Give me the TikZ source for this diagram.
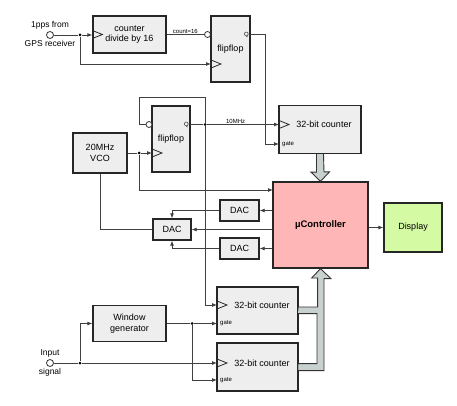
\documentclass[tikz,border=0pt]{standalone}
\usepackage{fontspec}
\setmainfont{Liberation Sans}
\usetikzlibrary{arrows.meta}

\definecolor{boxgray}{RGB}{238,238,238}
\definecolor{busgray}{RGB}{200,208,208}
\definecolor{ucpink}{RGB}{255,182,182}
\definecolor{dispgreen}{RGB}{212,250,164}

\begin{document}
\begin{tikzpicture}[x=1pt,y=-1pt,
  box/.style={draw=black!85, line width=1.3pt, fill=boxgray, inner sep=0pt, align=center, font=\fontsize{9}{10.5}\selectfont},
  txt/.style={inner sep=0pt, font=\fontsize{9}{10.5}\selectfont},
  wire/.style={draw=black!75, line width=0.8pt},
  sig/.style={wire, -{Latex[length=5pt,width=4pt]}},
  pin/.style={inner sep=1pt, font=\fontsize{6}{6.5}\selectfont},
  lbl/.style={inner sep=1.5pt, font=\fontsize{8.5}{9}\selectfont},
  term/.style={circle, draw=black!80, fill=white, line width=0.8pt, minimum size=7pt, inner sep=0pt},
  bubble/.style={circle, draw=black!80, fill=white, line width=0.8pt, minimum size=6pt, inner sep=0pt},
  dot/.style={circle, fill=black, minimum size=3pt, inner sep=0pt},
  bus/.style={draw=black!80, line width=0.9pt, fill=busgray, line join=miter},
  clk/.pic={\draw[black!85, line width=0.8pt] (0,-4) -- (10,0) -- (0,4);}
]
\useasboundingbox (0,0) rectangle (457,406);

% blocks
\node (cnt16) [box, minimum width=73, minimum height=37] at (129.5,34.5) {counter\\divide by 16};
\node (ffa) [box, minimum width=39, minimum height=66] at (230.5,49) {flipflop};
\node (ffb) [box, minimum width=38, minimum height=66] at (171,139) {flipflop};
\node (vco) [box, minimum width=54, minimum height=40] at (100,153) {20MHz\\VCO};
\node (ctrA) [box, minimum width=82, minimum height=48] at (320,129.5) {};
\node (ctrAt) [txt] at (324,124.5) {32-bit counter};
\node (dacT) [box, minimum width=39, minimum height=21] at (239.5,210.5) {DAC};
\node (dacM) [box, minimum width=38, minimum height=21] at (172,229.5) {DAC};
\node (dacB) [box, minimum width=39, minimum height=21] at (239.5,248.5) {DAC};
\node (uc) [box, fill=ucpink, minimum width=95, minimum height=86, font=\bfseries\fontsize{9.5}{11}\selectfont] at (320.5,225) {µController};
\node (disp) [box, fill=dispgreen, minimum width=58, minimum height=49] at (413,227.5) {Display};
\node (win) [box, minimum width=73, minimum height=36] at (129.5,323.5) {Window\\generator};
\node (ctrB) [box, minimum width=81, minimum height=47] at (257.5,310.5) {};
\node (ctrBt) [txt] at (262,305) {32-bit counter};
\node (ctrC) [box, minimum width=81, minimum height=48] at (257.5,367) {};
\node (ctrCt) [txt] at (262,363) {32-bit counter};

% terminals, pins, junctions
\node (gps) [term, label={[lbl]above:1pps from}, label={[lbl]below:GPS receiver}] at (50,35) {};
\node (inp) [term, label={[lbl]above:Input}, label={[lbl]below:signal}] at (50,363) {};
\node (ffa-n) [bubble] at (207.5,34.5) {};
\node (ffb-n) [bubble] at (149,124.5) {};
\coordinate (ffa-c) at (211,64);
\coordinate (ffa-q) at (250,34.5);
\coordinate (ffb-c) at (152,153);
\coordinate (ffb-q) at (190,124.5);
\coordinate (ctrA-c) at (279,124.5);
\coordinate (ctrA-g) at (279,144);
\coordinate (ctrB-c) at (217,305);
\coordinate (ctrB-g) at (217,323.5);
\coordinate (ctrC-c) at (217,363);
\coordinate (ctrC-g) at (217,380);
\coordinate (uc-c) at (273,190);
\node (j1) [dot] at (80,35) {};
\node (j3) [dot] at (205,124.5) {};
\node (j4) [dot] at (139,153) {};
\node (j5) [dot] at (80,363) {};
\node (j6) [dot] at (192,323.5) {};

\pic at (cnt16.west) {clk};
\pic at (ffa-c) {clk};
\pic at (ffb-c) {clk};
\pic at (ctrA-c) {clk};
\pic at (ctrB-c) {clk};
\pic at (ctrC-c) {clk};
\node (ffaQ) [pin, anchor=east] at (ffa-q) {Q};
\node (ffbQ) [pin, anchor=east] at (ffb-q) {Q};
\node (ctrAg) [pin, anchor=west] at ([xshift=2pt]ctrA-g) {gate};
\node (ctrBg) [pin, anchor=west] at ([xshift=2pt]ctrB-g) {gate};
\node (ctrCg) [pin, anchor=west] at ([xshift=2pt]ctrC-g) {gate};

% 1pps path
\draw[wire] (gps) -- (j1);
\draw[sig] (j1) -- (j1 -| cnt16.west);
\draw[sig] (j1) |- (ffa-c);
\draw[wire] (cnt16.east) -- node[pin, above] (cntl) {count=16} (ffa-n);
\draw[sig] (ffa-q) -- ++(15,0) |- (ctrA-g);

% 10MHz
\draw[wire] (ffb-q) -- (j3);
\draw[sig] (j3) -- node[pin, above, pos=0.4] (mhz) {10MHz} (ctrA-c);
\draw[wire] (j3) -- ++(0,-27.5) -| ([xshift=-6pt]ffb-n.west) -- (ffb-n);
\draw[sig] (j3) |- (ctrB-c);
\draw[wire] (vco.east |- j4) -- (j4);
\draw[sig] (j4) -- (ffb-c);
\draw[sig] (j4) |- (uc-c);

% DACs
\draw[wire] (vco.south) |- (dacM.west);
\draw[sig] (uc.west |- dacT) -- (dacT.east);
\draw[sig] (dacT.west) -| (dacM.north);
\draw[sig] (uc.west |- dacM) -- (dacM.east);
\draw[sig] (uc.west |- dacB) -- (dacB.east);
\draw[sig] (dacB.west) -| (dacM.south);
\draw[sig] (uc.east |- disp) -- (disp.west);

% input signal
\draw[wire] (inp) -- (j5);
\draw[sig] (j5) -- (ctrC-c);
\draw[sig] (j5) |- (win.west);
\draw[wire] (win.east) -- (j6);
\draw[sig] (j6) -- (ctrB-g);
\draw[sig] (j6) |- (ctrC-g);

% buses
\draw[bus] ([xshift=-3.5pt]ctrA.south) -- ++(0,18) -- ++(-5.5,0) -- (uc.north) -- ++(9,-9.5) -- ++(-5.5,0) -- ([xshift=3.5pt]ctrA.south);
\draw[bus] ([yshift=3.5pt]ctrB.east) -- ++(19,0) -- ++(0,-29) -- ++(-6,0) -- (uc.south) -- ++(10.5,10) -- ++(-7,0) -- ++(0,92) -- ++(-26,0) -- ++(0,-7) -- ++(19,0) -- ++(0,-50) -- ++(-19,0);
\end{tikzpicture}
\end{document}
